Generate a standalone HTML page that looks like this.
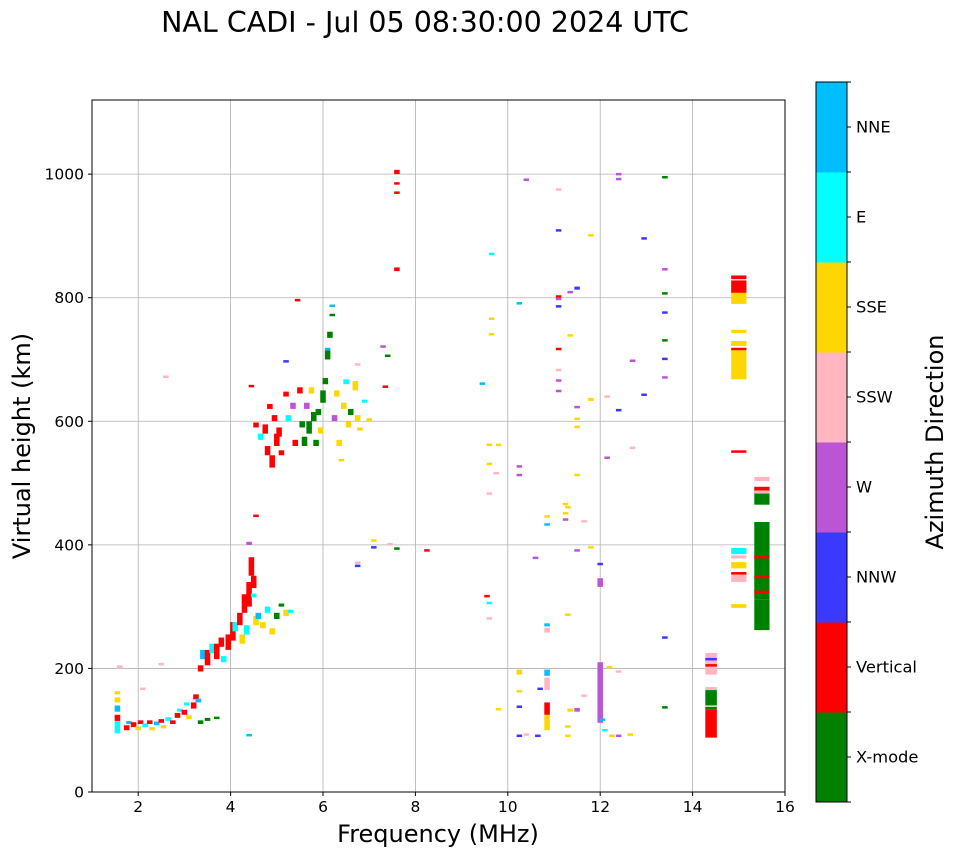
<!DOCTYPE html>
<html><head><meta charset="utf-8"><style>
body{margin:0;background:#fff}
svg{display:block;font-family:"DejaVu Sans","Liberation Sans",sans-serif}
</style></head><body>
<svg id="chart" width="958" height="857" viewBox="0 0 958 857">
<text x="425" y="32" font-size="28.5" text-anchor="middle">NAL CADI - Jul 05 08:30:00 2024 UTC</text>
<g id="grid"></g>
<g id="marks"></g>
<rect x="92" y="100" width="693" height="692" fill="none" stroke="#000" stroke-width="1"/>
<g id="axes"></g>
<text x="438" y="842" font-size="24" text-anchor="middle">Frequency (MHz)</text>
<text transform="translate(30,446) rotate(-90)" font-size="24" text-anchor="middle">Virtual height (km)</text>
<g id="cbar"></g>
<text transform="translate(943,442) rotate(-90)" font-size="24" text-anchor="middle">Azimuth Direction</text>
</svg>
<script>
const dirNames = ["X-mode","Vertical","NNW","W","SSW","SSE","E","NNE"];
const dirColors = ["#008000","#ff0000","#3a3aff","#ba55d3","#ffb6c1","#ffd700","#00ffff","#00bfff"];
const xTicks = [2,4,6,8,10,12,14,16];
const yTicks = [0,200,400,600,800,1000];
const freqs = [
1.55,1.55,1.55,1.55,1.55,1.6,1.75,1.8,1.9,2.0,2.05,2.15,2.25,2.3,2.4,2.5,2.55,2.65,2.75,2.85,2.9,3.0,3.05,3.1,3.2,3.25,3.3,3.35,3.5,3.7,2.5,2.6,2.1,
3.35,3.4,3.5,3.6,3.7,3.8,3.85,3.95,4.05,4.1,4.2,4.25,4.3,4.35,4.4,4.45,4.5,4.55,4.6,4.7,4.8,4.9,5.0,5.1,5.2,5.3,4.4,4.55,4.4,4.5,
4.45,4.55,4.65,4.75,4.8,4.85,4.9,4.95,5.0,5.05,5.1,5.2,5.25,5.35,5.4,5.45,5.2,5.5,5.55,5.6,5.65,5.7,5.75,5.8,5.85,5.9,5.95,6.0,6.05,6.1,6.15,6.2,6.2,6.1,6.25,6.3,6.35,6.4,6.45,6.5,6.55,6.6,6.7,6.75,6.8,6.75,6.9,7.0,
7.1,7.3,7.4,7.35,7.45,7.1,6.75,6.75,7.6,8.25,7.6,7.6,7.6,7.6,
9.45,9.55,9.6,9.6,9.65,9.65,9.65,9.6,9.8,9.6,9.6,9.75,9.8,10.25,10.25,10.25,10.25,10.25,10.25,10.25,10.4,10.4,10.6,10.65,10.7,10.85,10.85,10.85,10.85,10.85,10.85,10.85,10.85,
11.1,11.1,11.1,11.1,11.1,11.1,11.1,11.1,11.1,11.25,11.25,11.3,11.25,11.3,11.3,11.3,11.35,11.5,11.35,11.5,11.35,11.5,11.5,11.5,11.5,11.5,11.65,11.65,11.8,11.8,11.8,
12.0,12.0,12.0,12.0,12.05,12.1,12.15,12.15,12.2,12.25,12.4,12.4,12.4,12.4,12.4,12.65,12.7,12.7,12.95,12.95,13.4,13.4,13.4,13.4,13.4,13.4,13.4,13.4,13.4,
14.4,14.4,14.4,14.4,14.4,14.4,14.4,14.4,15.0,15.0,15.0,15.0,15.0,15.0,15.0,15.0,15.0,15.0,15.0,15.0,15.0,15.0,15.0,15.5,15.5,15.5,15.5,15.5,15.5,15.5,15.5,15.5
];
const heights = [
95,115,130,145,158,200,100,110,105,100,110,105,110,100,108,112,103,115,110,120,130,125,140,118,135,150,145,110,115,118,205,670,165,
195,215,205,225,215,235,210,230,245,260,270,240,290,255,300,350,330,270,280,265,290,255,280,300,285,290,400,445,90,315,
655,590,570,580,545,620,525,600,560,575,545,640,600,620,560,795,695,645,590,560,620,580,645,600,560,610,580,630,660,700,735,785,770,715,600,640,560,535,620,660,590,610,650,600,585,690,630,600,
405,720,705,655,400,395,370,365,393,390,1000,983,968,843,
660,315,305,280,870,765,740,560,560,530,482,515,132,790,525,512,190,162,137,90,990,92,378,90,165,100,125,165,188,268,258,445,432,
975,908,800,797,785,716,683,665,648,465,450,460,440,287,105,90,130,130,808,813,738,622,603,590,512,390,437,155,900,633,395,
112,332,343,368,115,98,640,540,200,90,998,991,617,194,90,92,697,557,895,642,995,845,806,775,730,700,670,249,136,
88,133,140,165,190,203,213,220,668,700,715,722,743,790,808,830,550,298,340,352,362,378,385,262,312,322,346,378,465,483,488,503
];
const spans = [
20,10,10,8,5,5,8,5,8,6,6,6,6,5,6,6,5,6,6,8,5,8,5,6,10,8,6,6,5,4,4,4,4,
10,15,25,15,25,15,10,25,30,15,20,15,30,15,40,30,20,15,10,10,10,10,10,5,10,5,5,4,4,6,
4,8,10,15,15,8,20,10,20,15,8,8,10,10,10,3,4,10,10,15,10,20,10,15,10,10,10,20,10,15,10,4,4,4,10,10,10,4,10,8,10,10,15,10,5,4,5,5,
4,3,3,3,3,3,3,3,3,3,7,4,4,6,
3,4,3,3,3,3,3,4,4,3,3,3,4,3,4,3,8,3,3,3,3,3,3,3,4,25,20,20,10,5,8,3,3,
2,3,4,3,3,3,2,3,3,3,3,3,3,2,3,3,5,6,3,5,3,3,3,3,3,3,3,3,3,5,3,
98,10,3,3,4,4,2,3,4,3,4,3,3,3,3,3,3,2,3,3,2,3,3,3,3,3,3,3,3,
45,5,25,5,35,4,4,5,32,15,4,8,5,30,20,6,3,6,15,4,10,5,10,50,125,4,4,4,25,5,6,7
];
const dirs = [
6,1,7,5,5,4,1,7,1,5,1,6,1,5,7,1,5,6,1,1,6,1,6,5,1,1,7,0,0,0,4,4,4,
1,7,1,6,1,1,6,1,1,6,1,5,1,6,1,1,1,5,7,5,6,5,0,0,5,6,3,1,7,6,
1,1,6,1,1,1,1,1,1,1,1,1,6,3,1,1,2,1,0,0,3,0,5,0,0,0,5,0,0,0,0,7,0,7,3,5,5,5,5,6,5,0,5,5,5,4,6,5,
5,3,0,1,4,2,4,2,0,1,1,1,1,1,
7,1,6,4,6,5,5,5,5,5,4,4,5,7,3,3,5,5,2,2,3,4,3,2,2,5,1,4,7,7,4,5,7,
4,2,1,3,2,1,4,3,3,5,5,5,3,5,5,5,5,3,3,2,5,3,5,5,5,3,4,4,5,5,5,
3,3,3,2,7,6,4,3,5,5,3,3,2,4,3,5,3,4,2,2,0,3,0,2,0,2,3,2,0,
1,0,0,4,4,1,2,4,5,5,1,5,5,5,1,1,1,5,4,1,5,4,6,0,0,1,1,1,0,4,1,4
];
const NS="http://www.w3.org/2000/svg";
const X0=92,X1=785,Y0=792,Y1=100,FMIN=1,FMAX=16,HMIN=0,HMAX=1120;
function X(f){return X0+(f-FMIN)/(FMAX-FMIN)*(X1-X0);}
function Y(h){return Y0-(h-HMIN)/(HMAX-HMIN)*(Y0-Y1);}
function mk(tag,attrs,parent){const e=document.createElementNS(NS,tag);for(const k in attrs)e.setAttribute(k,attrs[k]);parent.appendChild(e);return e;}
const grid=document.getElementById('grid'),axes=document.getElementById('axes'),marks=document.getElementById('marks'),cbar=document.getElementById('cbar');
xTicks.forEach(t=>{const x=X(t);
 let g=mk('line',{x1:x,x2:x,y1:Y1,y2:Y0,stroke:'#b0b0b0','stroke-width':0.8},grid);
 
 
 let tk=mk('line',{x1:x,x2:x,y1:Y0,y2:Y0+4,stroke:'#000'},axes);
 
 
 let tl=mk('text',{x:x,y:Y0+20,'font-size':15.5,'text-anchor':'middle'},axes);tl.textContent=t;
 
 
});
yTicks.forEach(t=>{const y=Y(t);
 let g=mk('line',{x1:X0,x2:X1,y1:y,y2:y,stroke:'#b0b0b0','stroke-width':0.8},grid);
 
 
 let tk=mk('line',{x1:X0-4,x2:X0,y1:y,y2:y,stroke:'#000'},axes);
 
 
 let tl=mk('text',{x:X0-8,y:y+5.5,'font-size':15.5,'text-anchor':'end'},axes);tl.textContent=t;
 
 
});
const n=Math.min(freqs.length,heights.length,spans.length,dirs.length);
for(let i=0;i<n;i++){
 const f=freqs[i],h=heights[i],s=spans[i];
 const w=f>=14.9?0.33:(f>=14.3?0.25:0.12);
 const yt=Y(h+s),yb=Y(h);
 const r=mk('rect',{x:X(f)-w/2*(X1-X0)/(FMAX-FMIN),y:yt,width:w*(X1-X0)/(FMAX-FMIN),height:Math.max(yb-yt,2.5),fill:dirColors[dirs[i]]},marks);
 
 
}
const CB_X=816,CB_W=31,CB_TOP=82,CB_BOT=802,seg=(CB_BOT-CB_TOP)/dirNames.length;
dirNames.forEach((nm,i)=>{const y=CB_BOT-(i+1)*seg;
 const r=mk('rect',{x:CB_X,y:y,width:CB_W,height:seg+0.5,fill:dirColors[i]},cbar);
 
 
 const tk=mk('line',{x1:CB_X+CB_W,x2:CB_X+CB_W+4,y1:y+seg/2,y2:y+seg/2,stroke:'#000'},cbar);
 
 
 const tl=mk('text',{x:856,y:y+seg/2+5.5,'font-size':16.3},cbar);tl.textContent=nm;
 
 
});
for(let i=0;i<=dirNames.length;i++){const y=CB_BOT-i*seg;
 const e=mk('line',{x1:CB_X+CB_W,x2:CB_X+CB_W+4,y1:y,y2:y,stroke:'#000'},cbar);
 
 
}
const fr=mk('rect',{x:CB_X,y:CB_TOP,width:CB_W,height:CB_BOT-CB_TOP,fill:'none',stroke:'#000'},cbar);


</script>
</body></html>
